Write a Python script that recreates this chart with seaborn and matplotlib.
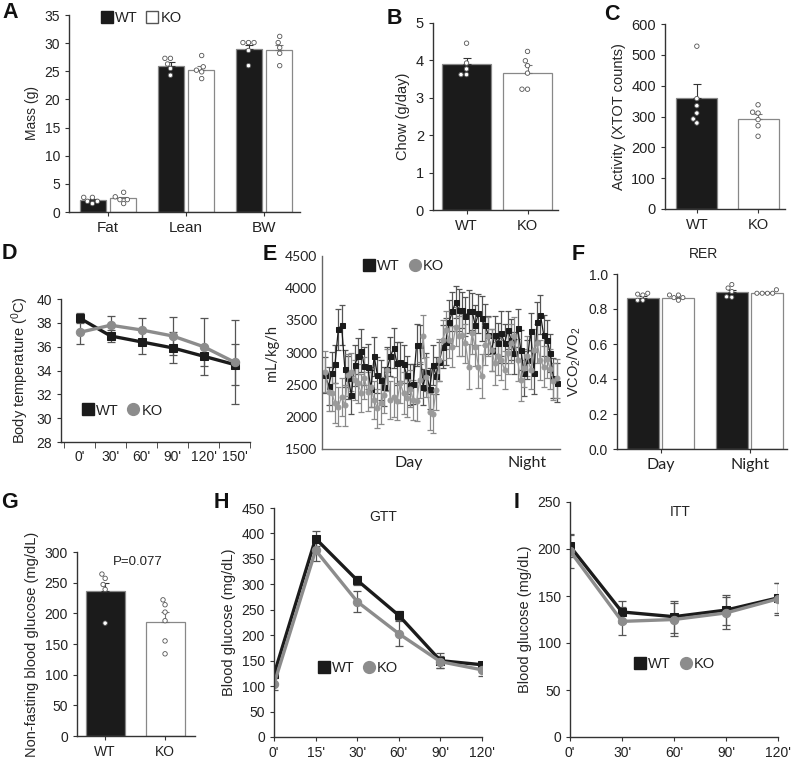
import numpy as np
import pandas as pd
import seaborn as sns
import matplotlib.pyplot as plt
from matplotlib.lines import Line2D

groups = ['WT', 'KO']

# A: body composition
mass_cats = ['Fat', 'Lean', 'BW']
mass_wt = [2.1, 26.0, 28.9]
mass_ko = [2.4, 25.3, 28.8]
mass_wt_sem = [0.2, 0.6, 0.7]
mass_ko_sem = [0.3, 0.6, 0.9]
mass_wt_dots = [[2.6, 2.6, 1.9, 1.9, 1.5], [27.3, 27.3, 26.3, 25.5, 24.3], [30.1, 30.1, 30.1, 28.7, 26.0]]
mass_ko_dots = [[3.5, 2.7, 2.2, 2.2, 1.5], [27.8, 25.8, 25.2, 24.9, 23.7], [31.2, 30.1, 29.2, 28.2, 26.0]]

# B: food intake
chow_mean = [3.90, 3.66]
chow_sem = [0.16, 0.21]
chow_wt_dots = [4.46, 3.93, 3.77, 3.62, 3.62]
chow_ko_dots = [4.24, 3.99, 3.86, 3.66, 3.23, 3.23]

# C: activity
act_mean = [360, 293]
act_sem = [45, 16]
act_wt_dots = [528, 358, 335, 311, 292, 279]
act_ko_dots = [338, 314, 311, 290, 270, 236]

# D: body temperature
temp_times = ["0'", "30'", "60'", "90'", "120'", "150'"]
temp_wt = [38.4, 36.9, 36.4, 35.9, 35.2, 34.5]
temp_ko = [37.2, 37.8, 37.4, 36.9, 36.0, 34.7]
temp_wt_err = [0.4, 0.5, 1.0, 1.3, 0.85, 1.7]
temp_ko_err = [1.0, 0.8, 1.0, 1.6, 2.4, 3.5]

# E: energy expenditure time course
ee_wt = [2650, 2480, 2680, 2820, 3360, 3430, 2750, 2610, 2340, 2800,
         2940, 3030, 2790, 2780, 2440, 2940, 2650, 2570, 2470, 2750,
         2940, 3070, 2830, 2860, 2820, 2650, 2500, 2510, 3120, 3120,
         2470, 2700, 2440, 2800, 2640, 2860, 3090, 3170, 3480, 3640,
         3790, 3660, 3660, 3560, 3640, 3640, 3430, 3610, 3530, 3430,
         3270, 3040, 3270, 3150, 3300, 3140, 3350, 3200, 2990, 3380,
         3040, 2680, 2890, 3330, 2680, 3480, 3590, 3270, 3200, 2990,
         2600, 2530]
ee_ko = [2700, 2390, 2370, 2210, 2160, 2310, 2180, 2650, 2700, 2570,
         2520, 2370, 2600, 2390, 2470, 2260, 2130, 2210, 2340, 2730,
         2260, 2310, 2240, 2520, 2370, 2290, 2440, 2260, 2240, 2570,
         3250, 2620, 2080, 2050, 2420, 2880, 3200, 3350, 3200, 3090,
         3400, 3250, 3270, 3140, 2780, 3300, 3090, 2780, 2630, 3120,
         3250, 3040, 2830, 2940, 2880, 2730, 2990, 3140, 3250, 2880,
         2570, 2760, 2940, 2730, 3040, 3140, 2880, 2780, 2900, 2750,
         2550, 2600]
ee_wt_err = [280, 300, 330, 300, 320, 310, 290, 330, 300, 320,
             280, 330, 300, 350, 290, 300, 280, 310, 300, 330,
             300, 310, 330, 300, 290, 300, 320, 310, 330, 300,
             280, 300, 320, 310, 290, 300, 330, 360, 330, 300,
             250, 320, 280, 300, 330, 290, 310, 300, 350, 320,
             300, 330, 290, 310, 350, 300, 290, 320, 330, 300,
             310, 350, 300, 290, 330, 300, 310, 320, 300, 290,
             310, 300]
ee_ko_err = [320, 300, 280, 310, 300, 290, 320, 330, 300, 310,
             300, 290, 330, 300, 310, 290, 300, 320, 280, 330,
             300, 310, 290, 300, 320, 300, 290, 310, 300, 280,
             330, 310, 290, 300, 320, 330, 310, 300, 290, 320,
             300, 310, 330, 300, 350, 320, 300, 330, 340, 310,
             300, 320, 330, 290, 310, 300, 320, 310, 300, 330,
             320, 300, 310, 290, 320, 300, 310, 320, 300, 310,
             290, 300]
ee_period_labels = ['Day', 'Night']
ee_period_pos = [25.5, 62]

# F: RER
rer_cats = ['Day', 'Night']
rer_wt = [0.865, 0.895]
rer_ko = [0.865, 0.893]
rer_wt_sem = [0.008, 0.012]
rer_ko_sem = [0.006, 0.004]
rer_wt_dots = [[0.89, 0.88, 0.885, 0.85, 0.85], [0.94, 0.92, 0.90, 0.867, 0.87]]
rer_ko_dots = [[0.88, 0.865, 0.865, 0.88, 0.85], [0.91, 0.89, 0.89, 0.89, 0.89]]

# G: non-fasting glucose
glu_mean = [236, 186]
glu_sem = [14, 16]
glu_wt_dots = [264, 257, 247, 239, 184]
glu_ko_dots = [222, 214, 202, 188, 155, 134]

# H: GTT
gtt_times = ["0'", "15'", "30'", "60'", "90'", "120'"]
gtt_wt = [123, 390, 308, 239, 150, 142]
gtt_ko = [104, 367, 266, 203, 148, 132]
gtt_wt_err = [5, 15, 9, 9, 15, 6]
gtt_ko_err = [11, 22, 21, 24, 12, 12]

# I: ITT
itt_times = ["0'", "30'", "60'", "90'", "120'"]
itt_wt = [203, 133, 128, 135, 148]
itt_ko = [198, 123, 125, 132, 147]
itt_wt_err = [12, 12, 17, 16, 16]
itt_ko_err = [18, 15, 18, 17, 17]

BLACK = '#1b1b1b'
GREY = '#8c8c8c'
W, H = 800, 767
TICK = 10

sns.set_style('ticks')
plt.rcParams['font.family'] = ['Liberation Sans', 'DejaVu Sans']
plt.rcParams['mathtext.default'] = 'regular'
plt.rcParams['text.color'] = '#222222'
plt.rcParams['axes.edgecolor'] = '#333333'
plt.rcParams['axes.linewidth'] = 1.0
plt.rcParams['xtick.color'] = '#333333'
plt.rcParams['ytick.color'] = '#333333'
plt.rcParams['xtick.labelcolor'] = '#222222'
plt.rcParams['ytick.labelcolor'] = '#222222'
plt.rcParams['xtick.major.size'] = 3
plt.rcParams['ytick.major.size'] = 3

fig = plt.figure(figsize=(W / 100, H / 100), dpi=100)


def frame(l, t, r, b):
    ax = fig.add_axes([l / W, 1 - b / H, (r - l) / W, (b - t) / H])
    sns.despine(ax=ax)
    return ax


def bar_panel(ax, cats, wt, ko, wt_sem, ko_sem, wt_dots, ko_dots,
              width=0.8, gap=0.0, dot=3.2):
    single = cats is None
    if single:
        cats = ['']
        wt_dots, ko_dots = [wt_dots], [ko_dots]
    bars = pd.DataFrame({'cat': cats * 2,
                         'geno': ['WT'] * len(cats) + ['KO'] * len(cats),
                         'val': list(wt) + list(ko)})
    x = 'geno' if single else 'cat'
    sns.barplot(data=bars, x=x, y='val', hue='geno', hue_order=groups,
                palette={'WT': BLACK, 'KO': 'white'}, edgecolor='#888888',
                linewidth=0.9, width=width, gap=gap, errorbar=None,
                legend=False, ax=ax)
    for cont, sems, col in zip(ax.containers, [wt_sem, ko_sem], ['#333333', '#777777']):
        for bar, s in zip(cont, sems):
            ax.errorbar(bar.get_x() + bar.get_width() / 2, bar.get_height(),
                        yerr=[[0], [s]], fmt='none', ecolor=col,
                        elinewidth=0.8, capsize=3, capthick=0.8)
    rows = []
    for c, w, k in zip(cats, wt_dots, ko_dots):
        rows += [(c, 'WT', v) for v in w] + [(c, 'KO', v) for v in k]
    dots = pd.DataFrame(rows, columns=['cat', 'geno', 'val'])
    sns.swarmplot(data=dots, x=x, y='val', hue='geno', hue_order=groups,
                  dodge=not single, palette={'WT': 'white', 'KO': 'white'},
                  edgecolor='#555555', linewidth=0.6, size=dot,
                  legend=False, ax=ax)
    ax.set_xlabel('')


def line_panel(ax, labels, wt, ko, wt_err, ko_err, lw=2.4, ms=6):
    x = np.arange(len(labels))
    for vals, err, col, mk in [(wt, wt_err, BLACK, 's'), (ko, ko_err, GREY, 'o')]:
        ax.errorbar(x, vals, yerr=err, fmt='none', ecolor='#555555',
                    elinewidth=0.9, capsize=3, capthick=0.9, zorder=1)
        sns.lineplot(x=x, y=vals, color=col, marker=mk, markersize=ms,
                     markeredgecolor=col, linewidth=lw, ax=ax, zorder=2)
    ax.set_xticks(x, labels)


def marker_legend(ax, x, y, size=10.5, hollow=False):
    ko = (Line2D([], [], ls='none', marker='s', mfc='white', mec='#555555', ms=8, label='KO')
          if hollow else
          Line2D([], [], ls='none', marker='o', color=GREY, ms=8.5, label='KO'))
    handles = [Line2D([], [], ls='none', marker='s', color=BLACK, ms=8, label='WT'), ko]
    ax.legend(handles=handles, loc='center', bbox_to_anchor=(x, y), ncol=2,
              frameon=False, handletextpad=0.05, columnspacing=0.5,
              handlelength=1.0, fontsize=size, borderaxespad=0, borderpad=0)


def letter(x, y, s):
    fig.text(x / W, 1 - y / H, s, fontsize=15.5, fontweight='bold',
             ha='center', va='center', color='#111111')


# A
ax = frame(69, 15, 300, 212)
bar_panel(ax, mass_cats, mass_wt, mass_ko, mass_wt_sem, mass_ko_sem,
          mass_wt_dots, mass_ko_dots, width=0.78, gap=0.15)
ax.set_ylim(0, 35)
ax.set_yticks(range(0, 36, 5))
ax.set_xlim(-0.5, 2.46)
ax.set_ylabel('Mass (g)', fontsize=10)
ax.tick_params(axis='y', labelsize=TICK)
ax.tick_params(axis='x', labelsize=11)
marker_legend(ax, 0.31, 0.985, hollow=True)

# B
ax = frame(433, 23, 558, 210)
bar_panel(ax, None, chow_mean[:1], chow_mean[1:], chow_sem[:1], chow_sem[1:],
          chow_wt_dots, chow_ko_dots, width=0.8)
ax.set_ylim(0, 5)
ax.set_xlim(-0.55, 1.5)
ax.set_ylabel('Chow (g/day)', fontsize=10.5)
ax.tick_params(labelsize=10.5)

# C
ax = frame(665, 24, 785, 209)
bar_panel(ax, None, act_mean[:1], act_mean[1:], act_sem[:1], act_sem[1:],
          act_wt_dots, act_ko_dots, width=0.67)
ax.set_ylim(0, 600)
ax.set_xlim(-0.52, 1.44)
ax.set_ylabel('Activity (XTOT counts)', fontsize=10.5)
ax.tick_params(labelsize=10.5)

# D
ax = frame(61, 299, 250, 442)
line_panel(ax, temp_times, temp_wt, temp_ko, temp_wt_err, temp_ko_err)
ax.set_ylim(28, 40)
ax.set_yticks(range(28, 41, 2))
ax.set_xlim(-0.6, 5.5)
ax.set_xticks(np.arange(len(temp_times) + 1) - 0.5, minor=True)
ax.tick_params(axis='x', which='major', length=0, pad=6)
ax.tick_params(axis='x', which='minor', length=4, direction='out')
ax.tick_params(labelsize=TICK)
ax.set_ylabel(r'Body temperature ($^0$C)', fontsize=10.5)
marker_legend(ax, 0.32, 0.22)

# E
ax = frame(322, 256, 560, 449)
t = np.arange(len(ee_wt))
for vals, err, col, ecol, mk in [(ee_wt, ee_wt_err, BLACK, '#555555', 's'),
                                 (ee_ko, ee_ko_err, '#9a9a9a', '#8a8a8a', 'o')]:
    ax.errorbar(t, vals, yerr=err, fmt='none', ecolor=ecol, elinewidth=0.9,
                capsize=2, capthick=0.9, zorder=1)
    sns.lineplot(x=t, y=vals, color=col, marker=mk, markersize=3.6,
                 markeredgecolor=col, linewidth=0.9, ax=ax, zorder=2)
ax.set_ylim(1500, 4500)
ax.set_yticks(range(1500, 4501, 500))
ax.set_xlim(-1, len(ee_wt))
ax.set_xticks(ee_period_pos, ee_period_labels)
ax.tick_params(length=0)
ax.tick_params(axis='x', labelsize=11.5, pad=5)
ax.tick_params(axis='y', labelsize=TICK)
for lab in ax.get_xticklabels() + ax.get_yticklabels():
    lab.set_family(['Lato', 'DejaVu Sans'])
ax.set_ylabel('mL/kg/h', fontsize=10.5, family=['Lato', 'DejaVu Sans'])
ax.spines['left'].set_color('#666666')
ax.spines['bottom'].set_color('#666666')
marker_legend(ax, 0.34, 0.95)

# F
ax = frame(617, 274, 787, 449)
bar_panel(ax, rer_cats, rer_wt, rer_ko, rer_wt_sem, rer_ko_sem,
          rer_wt_dots, rer_ko_dots, width=0.8, gap=0.1, dot=3.0)
ax.set_ylim(0, 1.0)
ax.set_yticks(np.arange(0, 1.01, 0.2))
ax.yaxis.set_major_formatter('{x:.1f}')
ax.set_xlim(-0.49, 1.42)
ax.tick_params(axis='y', labelsize=TICK)
ax.tick_params(axis='x', labelsize=11.5)
for lab in ax.get_xticklabels():
    lab.set_family(['Lato', 'DejaVu Sans'])
ax.set_ylabel(r'VCO$_2$/VO$_2$', fontsize=10.5)
ax.text(0.506, 1.114, 'RER', transform=ax.transAxes, ha='center', va='center', fontsize=10)

# G
ax = frame(77, 552, 195, 736)
bar_panel(ax, None, glu_mean[:1], glu_mean[1:], glu_sem[:1], glu_sem[1:],
          glu_wt_dots, glu_ko_dots, width=0.65)
ax.set_ylim(0, 300)
ax.set_xlim(-0.47, 1.5)
ax.set_ylabel('Non-fasting blood glucose (mg/dL)', fontsize=10.5)
ax.tick_params(labelsize=TICK)
ax.text(0.55, 283, 'P=0.077', ha='center', va='center', fontsize=9.5)

# H
ax = frame(274, 508, 482, 737)
line_panel(ax, gtt_times, gtt_wt, gtt_ko, gtt_wt_err, gtt_ko_err)
ax.set_ylim(0, 450)
ax.set_yticks(range(0, 451, 50))
ax.set_xlim(0, len(gtt_times) - 1)
ax.tick_params(labelsize=TICK)
ax.set_ylabel('Blood glucose (mg/dL)', fontsize=10.5)
ax.text(0.524, 0.961, 'GTT', transform=ax.transAxes, ha='center', va='center', fontsize=10)
marker_legend(ax, 0.40, 0.30)

# I
ax = frame(570, 502, 778, 737)
line_panel(ax, itt_times, itt_wt, itt_ko, itt_wt_err, itt_ko_err)
ax.set_ylim(0, 250)
ax.set_yticks(range(0, 251, 50))
ax.set_xlim(0, len(itt_times) - 1)
ax.tick_params(labelsize=TICK)
ax.set_ylabel('Blood glucose (mg/dL)', fontsize=10.5)
ax.text(0.529, 0.957, 'ITT', transform=ax.transAxes, ha='center', va='center', fontsize=10)
marker_legend(ax, 0.50, 0.31)

for s, x, y in [('A', 10, 12), ('B', 394, 18), ('C', 612, 14), ('D', 9, 253),
                ('E', 270, 254), ('F', 578, 255), ('G', 10, 502), ('H', 221, 502),
                ('I', 517, 502)]:
    letter(x, y, s)

fig.savefig('out.png', dpi=100)
